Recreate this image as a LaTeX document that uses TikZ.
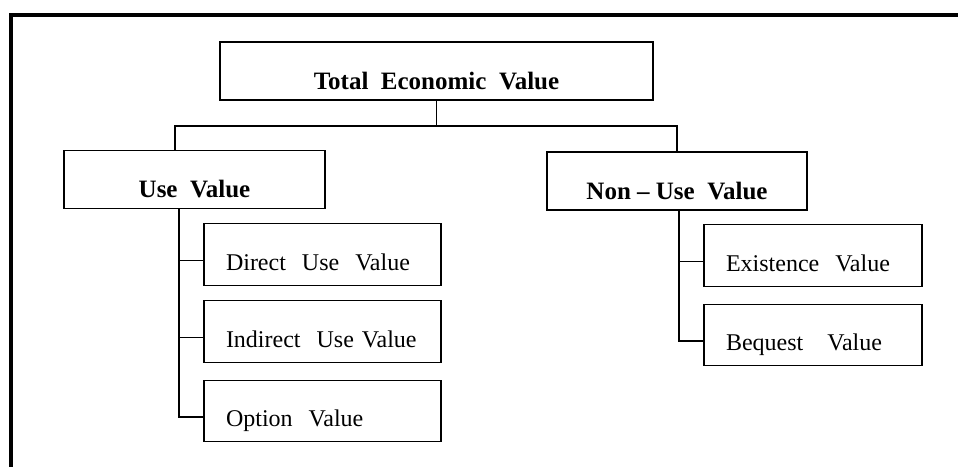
\documentclass[tikz,border=0pt]{standalone}
\usepackage{fontspec}
\setmainfont{Liberation Serif}
\usepackage{tikz}

\begin{document}
\begin{tikzpicture}[x=1pt, y=-1pt, line width=1.4pt,
  every node/.style={font=\fontsize{24}{28}\selectfont},
  head/.style={draw, inner ysep=0pt, text height=47pt, text depth=11pt, font=\fontsize{25}{29}\selectfont\bfseries},
  leaf/.style={draw, inner ysep=0pt, inner xsep=22pt, align=left, text height=46.5pt, text depth=15pt}]
  \useasboundingbox (0,0) rectangle (958,466);
  % frame
  \draw[line width=4pt] (11,470) -- (11,15) -- (962,15);

  \node[head, minimum width=433pt] (tev) at (436.5,71) {Total\ \ Economic\ \ Value};
  \node[head, minimum width=261pt] (use) at (194.5,179.5) {Use\ \ Value};
  \node[head, minimum width=260pt] (nonuse) at (677,181) {Non -- Use\ \ Value};

  \node[leaf, text width=193pt] (direct) at (322.5,254.5) {Direct\ \ Use\ \ Value};
  \node[leaf, text width=193pt] (indirect) at (322.5,331.5) {Indirect\ \ Use Value};
  \node[leaf, text width=193pt] (option) at (322.5,411) {Option\ \ Value};
  \node[leaf, text width=174pt] (exist) at (813,255.5) {Existence\ \ Value};
  \node[leaf, text width=174pt] (bequest) at (813,335) {Bequest\ \ \ Value};

  \coordinate (split) at (436.5,126);
  \draw (tev.south) -- (split);
  \draw ([xshift=-19.5pt]use.north) |- (split);
  \draw (nonuse.north) |- (split);

  \draw ([yshift=-6pt]direct.west) -| ([xshift=-15.5pt]use.south);
  \draw ([yshift=-6pt]indirect.west) -| ([xshift=-15.5pt]use.south);
  \draw ([yshift=-6pt]option.west) -| ([xshift=-15.5pt]use.south);
  \draw ([yshift=-6pt]exist.west) -| ([xshift=2pt]nonuse.south);
  \draw ([yshift=-6pt]bequest.west) -| ([xshift=2pt]nonuse.south);
\end{tikzpicture}
\end{document}
